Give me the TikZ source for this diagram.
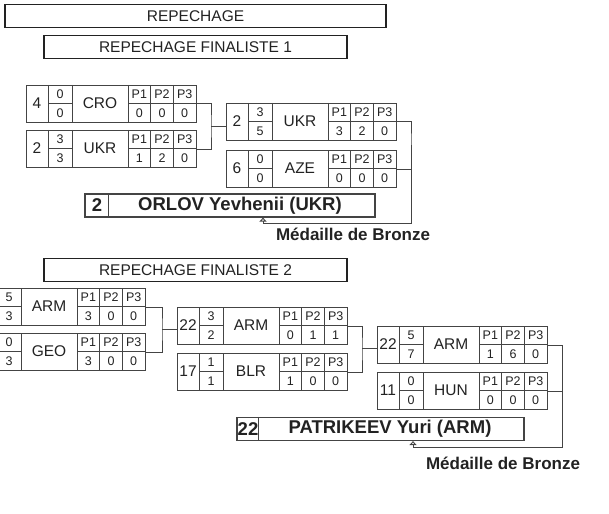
\documentclass[tikz,border=0pt]{standalone}
\usepackage{fontspec}
\setmainfont{Liberation Sans}
\usepackage{xcolor}
\usetikzlibrary{arrows.meta, calc}

\definecolor{ink}{HTML}{222222}
\definecolor{rule}{HTML}{444444}

% one bout row: name, number, score a/b, nation, P1..P3 values
\newcommand{\boutcells}[8]{%
  \begin{scope}[shift={(#1.north west)}]
    \draw[cell] (22,0) -- (22,37) (46,0) -- (46,37) (102,0) -- (102,37)
                (124.67,0) -- (124.67,37) (147.33,0) -- (147.33,37)
                (22,18.5) -- (46,18.5) (102,18.5) -- (170,18.5);
    \node[numtxt] (#1-n) at (11,18.5) {#2};
    \node[smalltxt] (#1-a) at (34,9.5) {#3};
    \node[smalltxt] (#1-b) at (34,28) {#4};
    \node[nattxt] (#1-c) at (74,18.5) {#5};
    \foreach \v [count=\i] in {#6,#7,#8} {
      \node[plab] (#1-p\i) at ({102+22.67*\i-11.33},9.5) {P\i};
      \node[smalltxt] (#1-v\i) at ({102+22.67*\i-11.33},28) {\v};
    }
  \end{scope}}

\begin{document}
\begin{tikzpicture}[
  x=1pt, y=-1pt,
  hdr/.style={rectangle, draw=ink, line width=1.8pt, inner sep=0pt,
              minimum height=23, text=ink, font=\fontsize{15.5}{18}\selectfont},
  mbox/.style={rectangle, draw=rule, line width=0.9pt, inner sep=0pt,
               minimum width=170, minimum height=37},
  cell/.style={draw=rule, line width=0.9pt},
  numtxt/.style={inner sep=0pt, text=ink, font=\fontsize{15.5}{17}\selectfont},
  nattxt/.style={inner sep=0pt, text=ink, font=\fontsize{15.5}{17}\selectfont},
  smalltxt/.style={inner sep=0pt, text=ink, font=\fontsize{12.5}{14}\selectfont},
  plab/.style={inner sep=0pt, text=ink, font=\fontsize{12.5}{14}\selectfont},
  winbox/.style={rectangle, draw=rule, line width=1.2pt, inner sep=0pt,
                 minimum height=23},
  wintxt/.style={inner sep=0pt, text=ink, font=\bfseries\fontsize{18.5}{20}\selectfont},
  medal/.style={inner sep=0pt, text=ink, font=\bfseries\fontsize{17}{19}\selectfont},
  link/.style={draw=rule, line width=0.9pt},
  arr/.style={link, -{Triangle[open, length=4pt, width=7pt]}},
]
  \useasboundingbox (0,0) rectangle (609,513);
  \clip (0,0) rectangle (609,513);

  \node[hdr, minimum width=381] (rep) at (195.5,16) {REPECHAGE};
  \node[hdr, minimum width=303] (rf1) at (195.5,47) {REPECHAGE FINALISTE 1};

  \node[mbox, anchor=north west] (cro) at (26,85) {};
  \node[mbox, anchor=north west] (ukr) at (26,130) {};
  \node[mbox, anchor=north west] (ukr2) at (226,103) {};
  \node[mbox, anchor=north west] (aze) at (226,150) {};
  \boutcells{cro}{4}{0}{0}{CRO}{0}{0}{0}
  \boutcells{ukr}{2}{3}{3}{UKR}{1}{2}{0}
  \boutcells{ukr2}{2}{3}{5}{UKR}{3}{2}{0}
  \boutcells{aze}{6}{0}{0}{AZE}{0}{0}{0}

  \node[winbox, minimum width=290] (win1) at (230,205.5) {};
  \draw[link] ([xshift=24pt]win1.north west) -- ([xshift=24pt]win1.south west);
  \node[wintxt] (win1-n) at (97,205.5) {2};
  \node[wintxt] (win1-c) at (240,205.5) {ORLOV Yevhenii (UKR)};

  \coordinate (j1) at (211,126);
  \coordinate (j2) at (411,145);
  \coordinate (t1) at (263,223);
  \draw[link] (cro.east) -| (j1) |- (ukr.east);
  \draw[link] (j1) -- (j1 -| ukr2.west);
  \draw[link] (ukr2.east) -| (j2) |- (aze.east);
  \draw[link] (j2) |- (t1);
  \draw[arr] (t1) -- (t1 |- win1.south);
  \node[medal] (br1) at (353,234) {Médaille de Bronze};

  \node[hdr, minimum width=303] (rf2) at (195.5,270) {REPECHAGE FINALISTE 2};

  \node[mbox, anchor=north west] (arm1) at (-25,288) {};
  \node[mbox, anchor=north west] (geo) at (-25,333) {};
  \node[mbox, anchor=north west] (arm2) at (177,307) {};
  \node[mbox, anchor=north west] (blr) at (177,353) {};
  \node[mbox, anchor=north west] (arm3) at (377,326) {};
  \node[mbox, anchor=north west] (hun) at (377,372) {};
  \boutcells{arm1}{}{5}{3}{ARM}{3}{0}{0}
  \boutcells{geo}{}{0}{3}{GEO}{3}{0}{0}
  \boutcells{arm2}{22}{3}{2}{ARM}{0}{1}{1}
  \boutcells{blr}{17}{1}{1}{BLR}{1}{0}{0}
  \boutcells{arm3}{22}{5}{7}{ARM}{1}{6}{0}
  \boutcells{hun}{11}{0}{0}{HUN}{0}{0}{0}

  \node[winbox, minimum width=287] (win2) at (380.5,429) {};
  \draw[link] ([xshift=22pt]win2.north west) -- ([xshift=22pt]win2.south west);
  \node[wintxt] (win2-n) at (248,429) {22};
  \node[wintxt] (win2-c) at (390,429) {PATRIKEEV Yuri (ARM)};

  \coordinate (j3) at (162,329);
  \coordinate (j4) at (362,348.5);
  \coordinate (j5) at (562,367.5);
  \coordinate (t2) at (413,447);
  \draw[link] (arm1.east) -| (j3) |- (geo.east);
  \draw[link] (j3) -- (j3 -| arm2.west);
  \draw[link] (arm2.east) -| (j4) |- (blr.east);
  \draw[link] (j4) -- (j4 -| arm3.west);
  \draw[link] (arm3.east) -| (j5) |- (hun.east);
  \draw[link] (j5) |- (t2);
  \draw[arr] (t2) -- (t2 |- win2.south);
  \node[medal] (br2) at (503,463) {Médaille de Bronze};
\end{tikzpicture}
\end{document}
